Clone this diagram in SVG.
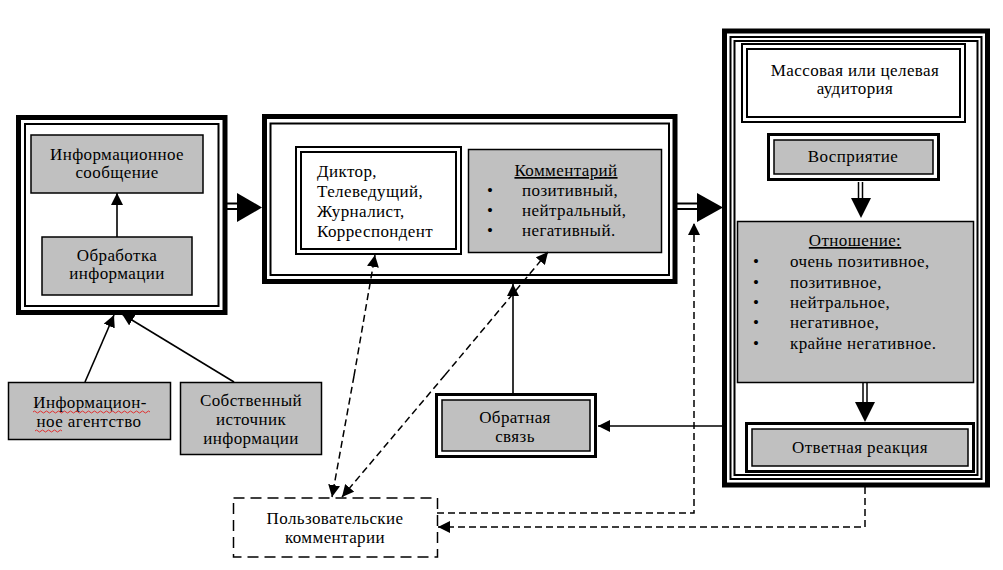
<svg xmlns="http://www.w3.org/2000/svg" width="1003" height="570" viewBox="0 0 1003 570" font-family="'Liberation Serif', 'Times New Roman', serif">
<style>
text{font-family:'Liberation Serif','Times New Roman',serif;font-size:17px;letter-spacing:0.4px;fill:#000}
.c{text-anchor:middle}
.u{text-decoration:underline}
.gray{fill:#c0c0c0;stroke:#000;stroke-width:1.5}
.thick{fill:none;stroke:#000;stroke-width:5}
.thin{fill:none;stroke:#000;stroke-width:2}
.mid{fill:none;stroke:#000;stroke-width:3}
.ln{fill:none;stroke:#000;stroke-width:1.6}
.dash{fill:none;stroke:#000;stroke-width:1.5;stroke-dasharray:7,4}
.sq{fill:none;stroke:#e03030;stroke-width:1}
</style>
<defs>
<marker id="ah" viewBox="0 0 12 12" refX="12" refY="6" markerWidth="12" markerHeight="12" markerUnits="userSpaceOnUse" orient="auto">
<path d="M0,0 L12,6 L0,12 z" fill="#000"/>
</marker>
</defs>
<rect width="1003" height="570" fill="#fff"/>

<g id="left-container">
<rect class="thick" x="18.5" y="117.5" width="206.5" height="195"/>
<rect class="thin" x="25" y="124" width="193.5" height="182"/>
</g>
<g id="info-message">
<rect class="gray" x="31" y="135" width="172" height="58"/>
<text class="c" x="117" y="160">Информационное</text>
<text class="c" x="117" y="178">сообщение</text>
</g>
<g id="processing">
<rect class="gray" x="42" y="237" width="150" height="58"/>
<text class="c" x="117" y="261">Обработка</text>
<text class="c" x="117" y="279">информации</text>
</g>

<g id="middle-container">
<rect class="thick" x="264.5" y="116.5" width="410.5" height="165"/>
<rect class="thin" x="270.5" y="123.5" width="398.5" height="151.5"/>
</g>
<g id="speaker">
<rect x="296" y="147" width="165" height="107" fill="#fff" stroke="#000" stroke-width="2"/>
<rect class="thin" x="301" y="152" width="155" height="97"/>
<text x="317" y="177">Диктор,</text>
<text x="317" y="197">Телеведущий,</text>
<text x="317" y="217">Журналист,</text>
<text x="317" y="237">Корреспондент</text>
</g>
<g id="commentary">
<rect class="gray" x="468.5" y="149.5" width="193" height="103"/>
<text class="c u" x="566" y="176">Комментарий</text>
<text x="487" y="196">•</text><text x="522" y="196">позитивный,</text>
<text x="487" y="216">•</text><text x="522" y="216">нейтральный,</text>
<text x="487" y="236">•</text><text x="522" y="236">негативный.</text>
</g>

<g id="right-container">
<rect class="thick" x="724.5" y="31" width="263" height="454"/>
<rect class="thin" x="730.5" y="37" width="251" height="442"/>
<rect class="thin" x="734.5" y="41" width="243" height="434"/>
</g>
<g id="audience">
<rect x="742" y="44" width="223" height="78" fill="#fff" stroke="#000" stroke-width="2"/>
<rect class="thin" x="747" y="49" width="213" height="68"/>
<text class="c" x="855" y="76">Массовая или целевая</text>
<text class="c" x="855" y="94">аудитория</text>
</g>
<g id="perception">
<rect class="mid" x="768.5" y="134.5" width="170" height="45" fill="#fff"/>
<rect x="774" y="140" width="159" height="34" fill="#c0c0c0" stroke="#000" stroke-width="1.5"/>
<text class="c" x="853" y="162">Восприятие</text>
</g>
<g id="attitude">
<rect class="gray" x="737.5" y="221.5" width="236" height="161"/>
<text class="c u" x="855" y="246">Отношение:</text>
<text x="753" y="267">•</text><text x="790" y="267">очень позитивное,</text>
<text x="753" y="288">•</text><text x="790" y="288">позитивное,</text>
<text x="753" y="308">•</text><text x="790" y="308">нейтральное,</text>
<text x="753" y="328">•</text><text x="790" y="328">негативное,</text>
<text x="753" y="349">•</text><text x="790" y="349">крайне негативное.</text>
</g>
<g id="response">
<rect class="mid" x="746.5" y="423.5" width="227" height="48" fill="#fff"/>
<rect x="752" y="429" width="216" height="37" fill="#c0c0c0" stroke="#000" stroke-width="1.5"/>
<text class="c" x="860" y="453">Ответная реакция</text>
</g>

<g id="agency">
<rect class="gray" x="8.5" y="382.5" width="162" height="57"/>
<text class="c" x="90" y="408">Информацион-</text>
<text class="c" x="89" y="427">ное агентство</text>
<path class="sq" d="M33,412 q1.5,-2 3,0 t3,0 t3,0 t3,0 t3,0 t3,0 t3,0 t3,0 t3,0 t3,0 t3,0 t3,0 t3,0 t3,0 t3,0 t3,0 t3,0 t3,0 t3,0 t3,0 t3,0 t3,0 t3,0 t3,0 t3,0 t3,0 t3,0 t3,0 t3,0 t3,0 t3,0 t3,0 t3,0 t3,0 t3,0 t3,0 t3,0 t3,0 t3,0"/>
<path class="sq" d="M35,431 q1.5,-2 3,0 t3,0 t3,0 t3,0 t3,0 t3,0 t3,0 t3,0 t3,0"/>
</g>
<g id="own-source">
<rect class="gray" x="180.5" y="382.5" width="141" height="72"/>
<text class="c" x="251" y="406">Собственный</text>
<text class="c" x="251" y="425">источник</text>
<text class="c" x="251" y="444">информации</text>
</g>

<g id="feedback">
<rect class="mid" x="436.5" y="394.5" width="159" height="62" fill="#fff"/>
<rect x="442" y="400" width="148" height="51" fill="#c0c0c0" stroke="#000" stroke-width="1.5"/>
<text class="c" x="515" y="423">Обратная</text>
<text class="c" x="515" y="442">связь</text>
</g>

<g id="user-comments">
<rect x="233.5" y="498" width="204" height="59" fill="#fff" stroke="#000" stroke-width="1.5" stroke-dasharray="11,6"/>
<text class="c" x="335" y="524">Пользовательские</text>
<text class="c" x="335" y="543">комментарии</text>
</g>

<g id="connectors">
<line class="ln" x1="117" y1="237" x2="117" y2="193" marker-end="url(#ah)"/>
<line class="ln" x1="85" y1="382" x2="114" y2="315" marker-end="url(#ah)"/>
<line class="ln" x1="234" y1="382" x2="122" y2="314" marker-end="url(#ah)"/>
<line x1="227" y1="203.5" x2="238" y2="203.5" stroke="#000" stroke-width="2"/>
<line x1="227" y1="209" x2="238" y2="209" stroke="#000" stroke-width="2"/>
<path d="M237,193 L262,207.5 L237,222 z" fill="#000"/>
<line x1="677" y1="203.5" x2="698" y2="203.5" stroke="#000" stroke-width="2"/>
<line x1="677" y1="209" x2="698" y2="209" stroke="#000" stroke-width="2"/>
<path d="M697,193 L723,207.5 L697,222 z" fill="#000"/>
<line x1="858.5" y1="182" x2="858.5" y2="199" stroke="#000" stroke-width="1.5"/>
<line x1="862.5" y1="182" x2="862.5" y2="199" stroke="#000" stroke-width="1.5"/>
<path d="M851,198 L871,198 L861,218 z" fill="#000"/>
<line x1="863" y1="383" x2="863" y2="403" stroke="#000" stroke-width="1.5"/>
<line x1="867" y1="383" x2="867" y2="403" stroke="#000" stroke-width="1.5"/>
<path d="M855,402 L875,402 L865,422 z" fill="#000"/>
<line class="ln" x1="513" y1="394" x2="513" y2="284" marker-end="url(#ah)"/>
<line class="ln" x1="722" y1="426" x2="598" y2="426" marker-end="url(#ah)"/>
<line class="dash" x1="354" y1="376" x2="332" y2="497" marker-end="url(#ah)"/>
<line class="dash" x1="354" y1="376" x2="375" y2="255" marker-end="url(#ah)"/>
<line class="dash" x1="445" y1="375" x2="342" y2="497" marker-end="url(#ah)"/>
<line class="dash" x1="445" y1="375" x2="548" y2="252" marker-end="url(#ah)"/>
<polyline class="dash" points="437,513 694,513 694,223" marker-end="url(#ah)"/>
<polyline class="dash" points="865,487 865,527 438,527" marker-end="url(#ah)"/>
</g>
</svg>
